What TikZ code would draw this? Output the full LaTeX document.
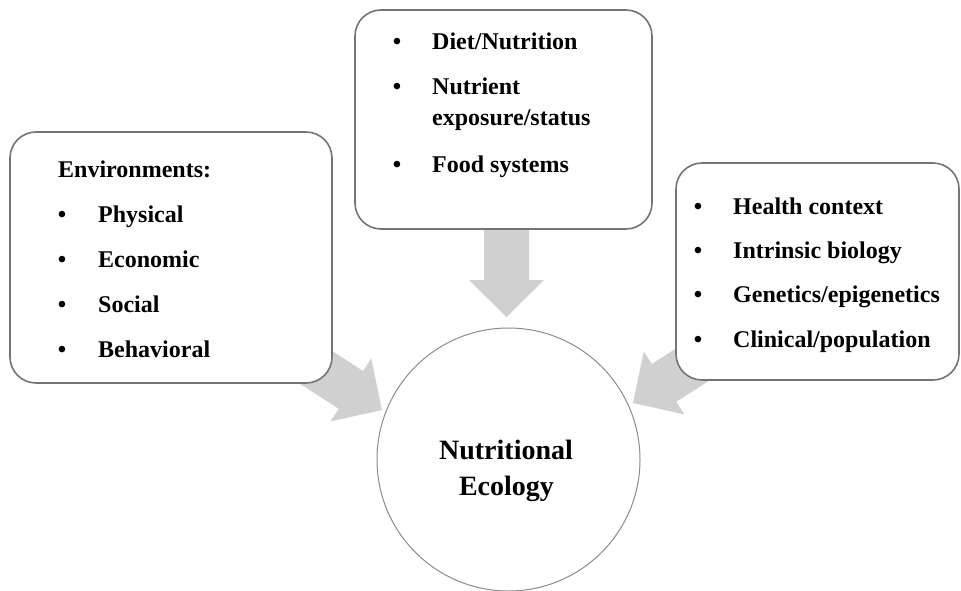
\documentclass[tikz,border=0pt]{standalone}
\usepackage{fontspec}
\setmainfont{Liberation Serif}
\definecolor{boxgray}{HTML}{747474}
\definecolor{circgray}{HTML}{8C8C8C}
\definecolor{arrowgray}{HTML}{D0D0D0}
\begin{document}
\begin{tikzpicture}[x=1pt,y=-1pt,
  box/.style={draw=boxgray, line width=1.6pt, rounded corners=26pt, fill=white, inner sep=0pt},
  bigarrow/.style={fill=arrowgray, draw=none},
  itemtext/.style={anchor=base west, inner sep=0pt, font=\fontsize{24}{30}\selectfont\bfseries},
  bul/.style={anchor=base, inner sep=0pt, font=\fontsize{24}{30}\selectfont\bfseries},
  title/.style={anchor=base, inner sep=0pt, font=\fontsize{28}{34}\selectfont\bfseries},
]
\useasboundingbox (0,0) rectangle (961,591);
\fill[white] (0,0) rectangle (961,591);

% block arrows (drawn beneath the boxes)
\fill[bigarrow] (484,200) -- (529,200) -- (529,280) -- (544,280) -- (506.5,317)
  -- (469,280) -- (484,280) -- cycle;
\fill[bigarrow] (212.7,327.5) -- (338.7,408.8) -- (330.6,421.4) -- (382,410)
  -- (371.2,358.4) -- (363.1,371.0) -- (237.1,289.7) -- cycle;
\fill[bigarrow] (802.3,320.5) -- (676.3,401.8) -- (684.4,414.4) -- (633,403)
  -- (643.8,351.4) -- (651.9,364.0) -- (777.9,282.7) -- cycle;

% boxes
\node[box, minimum width=322pt, minimum height=251pt] (env) at (171,257.5) {};
\node[box, minimum width=297pt, minimum height=219pt] (diet) at (503.5,119.5) {};
\node[box, minimum width=283pt, minimum height=217pt] (health) at (817.5,271.5) {};

% circle
\node[circle, draw=circgray, line width=1pt, fill=white, minimum size=263pt, inner sep=0pt] (eco) at (508.5,459.5) {};

% left box text
\node[itemtext] (envt) at (58,177) {Environments:};
\node[bul] (b1) at (62,222) {•};
\node[itemtext] (t1) at (98,222) {Physical};
\node[bul] (b2) at (62,267) {•};
\node[itemtext] (t2) at (98,267) {Economic};
\node[bul] (b3) at (62,312) {•};
\node[itemtext] (t3) at (98,312) {Social};
\node[bul] (b4) at (62,357) {•};
\node[itemtext] (t4) at (98,357) {Behavioral};

% top box text
\node[bul] (c1) at (397,50) {•};
\node[itemtext] (u1) at (432,50) {Diet/Nutrition};
\node[bul] (c2) at (397,95) {•};
\node[itemtext] (u2) at (432,95) {Nutrient};
\node[itemtext] (u2b) at (432,126) {exposure/status};
\node[bul] (c3) at (397,172) {•};
\node[itemtext] (u3) at (432,172) {Food systems};

% right box text
\node[bul] (d1) at (698,214) {•};
\node[itemtext] (v1) at (733,214) {Health context};
\node[bul] (d2) at (698,258) {•};
\node[itemtext] (v2) at (733,258) {Intrinsic biology};
\node[bul] (d3) at (698,302) {•};
\node[itemtext] (v3) at (733,302) {Genetics/epigenetics};
\node[bul] (d4) at (698,347) {•};
\node[itemtext] (v4) at (733,347) {Clinical/population};

% circle text
\node[title] (n1) at (506,459) {Nutritional};
\node[title] (n2) at (506.5,495) {Ecology};
\end{tikzpicture}
\end{document}
